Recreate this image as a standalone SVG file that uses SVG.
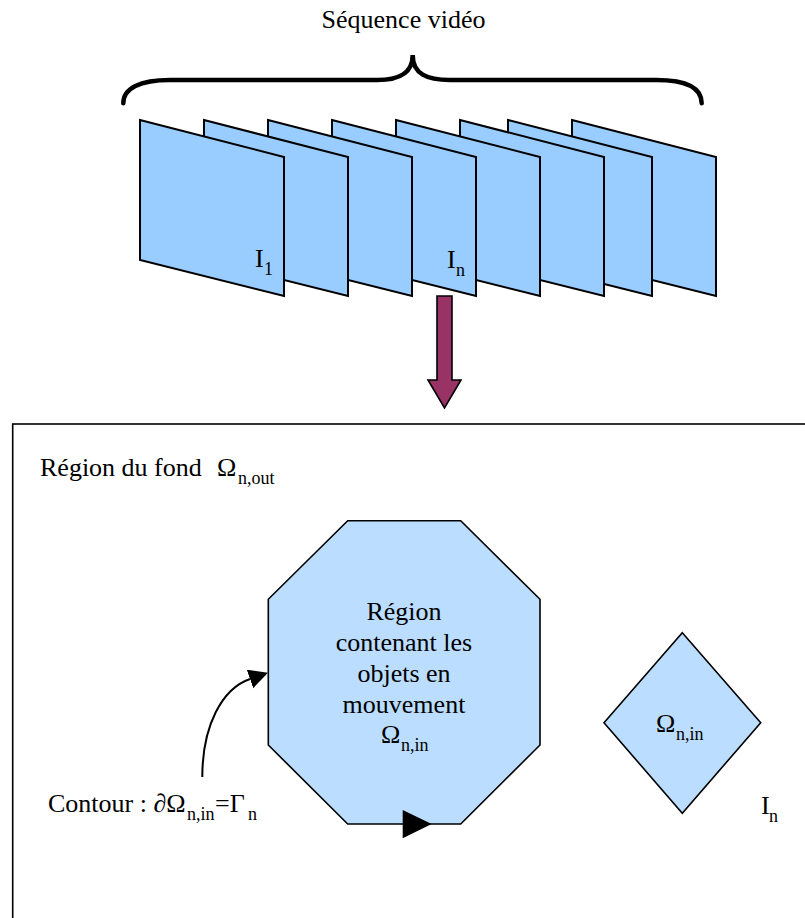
<svg xmlns="http://www.w3.org/2000/svg" width="805" height="918" viewBox="0 0 805 918">
<style>
text{font-family:"Liberation Serif",Tinos,"Times New Roman","DejaVu Serif","Noto Serif",serif;font-size:26px;fill:#000}
.sub{font-size:18px}
.frame{fill:#99CCFF;stroke:#000;stroke-width:2;stroke-linejoin:miter}
.shape{fill:#BBDDFF;stroke:#000;stroke-width:1.6}
.blk{fill:#000}
.conn{fill:none;stroke:#000;stroke-width:2}
</style>
<defs>
<marker id="ah" markerUnits="userSpaceOnUse" markerWidth="20" markerHeight="20" refX="0" refY="9.75" orient="auto">
<path d="M0,0 L19,9.75 L0,19.5 z" fill="#000"/>
</marker>
</defs>
<rect width="805" height="918" fill="#fff"/>

<g id="title"><text x="403.5" y="28" text-anchor="middle">Séquence vidéo</text></g>
<g id="brace"><path d="M123.3,103.3 C123.3,88 140,80 170,80 L377,80 C398,80 412.7,74 412.7,55 C412.7,74 427,80 450,80 L656,80 C686,80 701.7,88 701.7,103.3" fill="none" stroke="#000" stroke-width="4.5" stroke-linecap="round"/></g>

<g id="frames">
<polygon class="frame" points="572,120 716,157 716,296 572,260"/>
<polygon class="frame" points="508,120 652,157 652,296 508,260"/>
<polygon class="frame" points="460,120 604,157 604,296 460,260"/>
<polygon class="frame" points="396,120 540,157 540,296 396,260"/>
<g id="frame-n">
<polygon class="frame" points="332,120 476,157 476,296 332,260"/>
<text x="447" y="268">I<tspan class="sub" x="456" y="276">n</tspan></text>
</g>
<polygon class="frame" points="268,120 412,157 412,296 268,260"/>
<polygon class="frame" points="204,120 348,157 348,296 204,260"/>
<g id="frame-1">
<polygon class="frame" points="140,120 284,157 284,296 140,260"/>
<text x="255" y="267">I<tspan class="sub" x="264" y="275">1</tspan></text>
</g>
</g>

<g id="down-arrow"><polygon points="437,296 452,296 452,380 461,380 444.5,408 428,380 437,380" fill="#993366" stroke="#000" stroke-width="1.6"/></g>

<g id="image-box">
<rect x="12.7" y="424" width="820" height="520" fill="none" stroke="#000" stroke-width="1.6"/>
<text x="40" y="476">Région du fond</text>
<text x="217" y="476">Ω<tspan class="sub" x="238" y="484">n,out</tspan></text>
<text x="761" y="814">I<tspan class="sub" x="769" y="822">n</tspan></text>
</g>

<g id="octagon">
<polygon class="shape" points="347.7,520.7 460.7,520.7 540,599.3 540,745 460.7,824 347.7,824 268.3,745 268.3,599.3"/>
<polygon class="blk" points="402.7,810 431.7,824 402.7,838.3"/>
<text text-anchor="middle" x="404" y="620">Région</text>
<text text-anchor="middle" x="404" y="651">contenant les</text>
<text text-anchor="middle" x="404" y="682">objets en</text>
<text text-anchor="middle" x="404" y="712.5">mouvement</text>
<text x="381" y="743">Ω<tspan class="sub" x="401" y="751">n,in</tspan></text>
</g>

<g id="diamond">
<polygon class="shape" points="682.3,632.7 760.7,722.7 682.3,813.3 604,722.7"/>
<text x="656" y="731.7">Ω<tspan class="sub" x="676" y="739.7">n,in</tspan></text>
</g>

<g id="contour-label">
<text x="48" y="812">Contour : ∂Ω<tspan class="sub" x="187" y="820">n,in</tspan><tspan x="215" y="812">=Γ</tspan><tspan class="sub" x="248" y="820">n</tspan></text>
</g>

<g id="connectors">
<path class="conn" d="M202.3,777 C202.3,725 222.5,688.5 250,679" marker-end="url(#ah)"/>
</g>
</svg>
